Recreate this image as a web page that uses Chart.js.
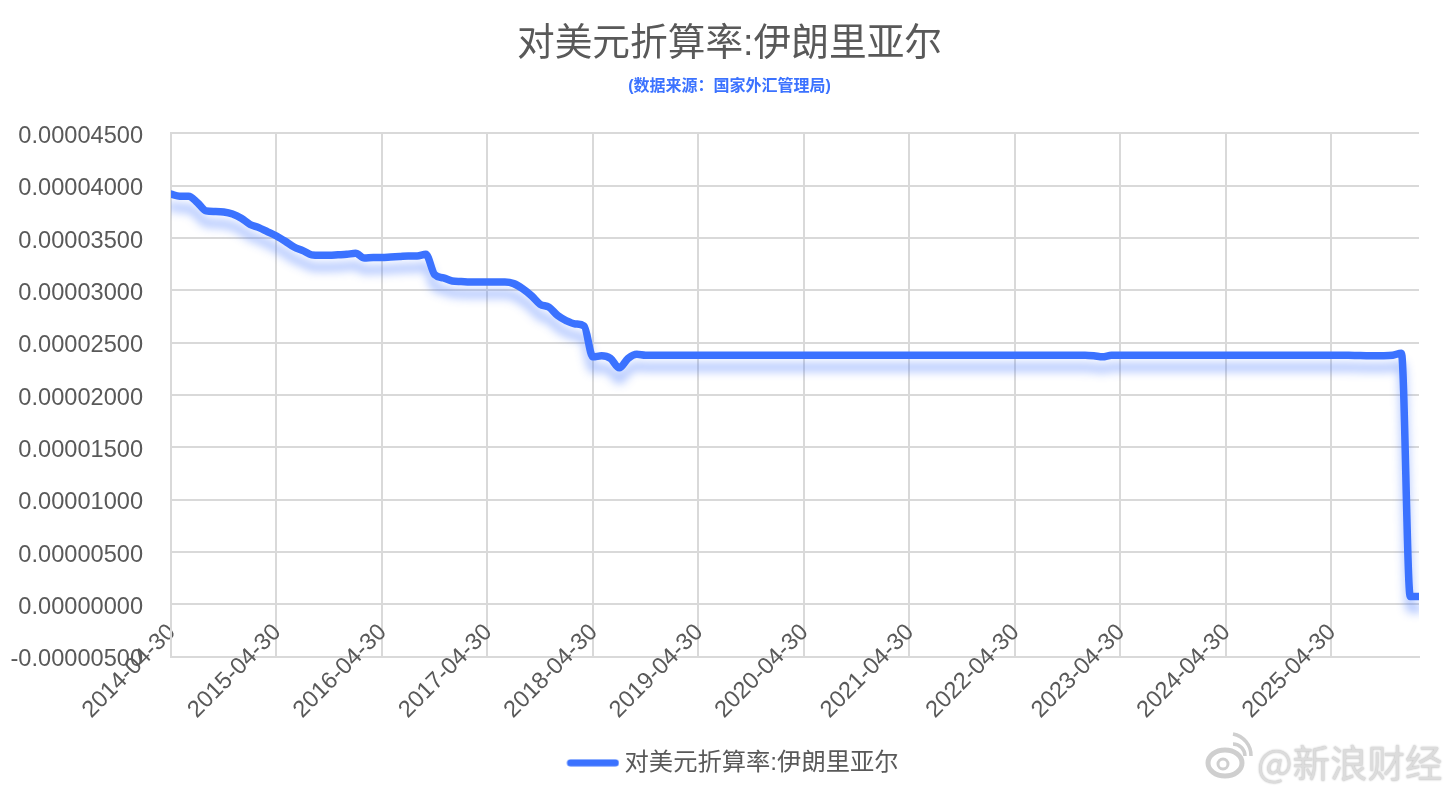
<!DOCTYPE html>
<html lang="zh-CN">
<head>
<meta charset="utf-8">
<title>对美元折算率:伊朗里亚尔</title>
<script src="https://cdn.jsdelivr.net/npm/chart.js@4/dist/chart.umd.min.js"></script>
<style>
    html, body { margin: 0; padding: 0; background: #fff; overflow: hidden; }
    #wrap { position: relative; width: 1454px; height: 790px; }
    #watermark { position: absolute; left: 1257px; top: 736px; font: 37.5px "Noto Sans CJK SC", sans-serif; line-height: 50px; color: #dcdcdc; text-shadow: 0 0 2px #b0b0b0; white-space: nowrap; }
    #weibo { position: absolute; left: 1205px; top: 730px; }
</style>
</head>
<body>
<div id="wrap">
    <canvas id="rateChart" width="1454" height="790"></canvas>
    <svg id="weibo" width="48" height="50" viewBox="0 0 48 50" fill="none" stroke="#cfcfcf">
        <ellipse cx="20" cy="33" rx="17" ry="13" stroke-width="5"/>
        <circle cx="18" cy="34" r="5" stroke-width="3"/>
        <path d="M28 14a12 12 0 0 1 12 12M28 4a22 22 0 0 1 18 22" stroke-width="3.5"/>
    </svg>
    <div id="watermark">@新浪财经</div>
</div>
<script>
// --- Dados ---
const titulo = '对美元折算率:伊朗里亚尔';
const subtitulo = '(数据来源\uFF1A国家外汇管理局)';

const datas = [
    '2014-04-30', '2014-05-31', '2014-06-30', '2014-07-31', '2014-08-31', '2014-09-30', '2014-10-31', '2014-11-30', '2014-12-31', '2015-01-31', '2015-02-28', '2015-03-31',
    '2015-04-30', '2015-05-31', '2015-06-30', '2015-07-31', '2015-08-31', '2015-09-30', '2015-10-31', '2015-11-30', '2015-12-31', '2016-01-31', '2016-02-29', '2016-03-31',
    '2016-04-30', '2016-05-31', '2016-06-30', '2016-07-31', '2016-08-31', '2016-09-30', '2016-10-31', '2016-11-30', '2016-12-31', '2017-01-31', '2017-02-28', '2017-03-31',
    '2017-04-30', '2017-05-31', '2017-06-30', '2017-07-31', '2017-08-31', '2017-09-30', '2017-10-31', '2017-11-30', '2017-12-31', '2018-01-31', '2018-02-28', '2018-03-31',
    '2018-04-30', '2018-05-31', '2018-06-30', '2018-07-31', '2018-08-31', '2018-09-30', '2018-10-31', '2018-11-30', '2018-12-31', '2019-01-31', '2019-02-28', '2019-03-31',
    '2019-04-30', '2019-05-31', '2019-06-30', '2019-07-31', '2019-08-31', '2019-09-30', '2019-10-31', '2019-11-30', '2019-12-31', '2020-01-31', '2020-02-29', '2020-03-31',
    '2020-04-30', '2020-05-31', '2020-06-30', '2020-07-31', '2020-08-31', '2020-09-30', '2020-10-31', '2020-11-30', '2020-12-31', '2021-01-31', '2021-02-28', '2021-03-31',
    '2021-04-30', '2021-05-31', '2021-06-30', '2021-07-31', '2021-08-31', '2021-09-30', '2021-10-31', '2021-11-30', '2021-12-31', '2022-01-31', '2022-02-28', '2022-03-31',
    '2022-04-30', '2022-05-31', '2022-06-30', '2022-07-31', '2022-08-31', '2022-09-30', '2022-10-31', '2022-11-30', '2022-12-31', '2023-01-31', '2023-02-28', '2023-03-31',
    '2023-04-30', '2023-05-31', '2023-06-30', '2023-07-31', '2023-08-31', '2023-09-30', '2023-10-31', '2023-11-30', '2023-12-31', '2024-01-31', '2024-02-29', '2024-03-31',
    '2024-04-30', '2024-05-31', '2024-06-30', '2024-07-31', '2024-08-31', '2024-09-30', '2024-10-31', '2024-11-30', '2024-12-31', '2025-01-31', '2025-02-28', '2025-03-31',
    '2025-04-30', '2025-05-31', '2025-06-30', '2025-07-31', '2025-08-31', '2025-09-30', '2025-10-31', '2025-11-30', '2025-12-31', '2026-01-31', '2026-02-28'
];

const valores = [
    0.00003920, 0.00003900, 0.00003900, 0.00003840, 0.00003760, 0.00003755, 0.00003750, 0.00003730, 0.00003690, 0.00003630, 0.00003600, 0.00003560,
    0.00003520, 0.00003470, 0.00003415, 0.00003380, 0.00003340, 0.00003335, 0.00003335, 0.00003340, 0.00003345, 0.00003355, 0.00003310, 0.00003315,
    0.00003315, 0.00003320, 0.00003325, 0.00003330, 0.00003330, 0.00003345, 0.00003150, 0.00003120, 0.00003090, 0.00003085, 0.00003080, 0.00003080,
    0.00003080, 0.00003080, 0.00003080, 0.00003065, 0.00003017, 0.00002950, 0.00002867, 0.00002840, 0.00002760, 0.00002710, 0.00002680, 0.00002660,
    0.00002365, 0.00002375, 0.00002350, 0.00002260, 0.00002350, 0.00002390, 0.00002380, 0.00002380, 0.00002380, 0.00002380, 0.00002380, 0.00002380,
    0.00002380, 0.00002380, 0.00002380, 0.00002380, 0.00002380, 0.00002380, 0.00002380, 0.00002380, 0.00002380, 0.00002380, 0.00002380, 0.00002380,
    0.00002380, 0.00002380, 0.00002380, 0.00002380, 0.00002380, 0.00002380, 0.00002380, 0.00002380, 0.00002380, 0.00002380, 0.00002380, 0.00002380,
    0.00002380, 0.00002380, 0.00002380, 0.00002380, 0.00002380, 0.00002380, 0.00002380, 0.00002380, 0.00002380, 0.00002380, 0.00002380, 0.00002380,
    0.00002380, 0.00002380, 0.00002380, 0.00002380, 0.00002380, 0.00002380, 0.00002380, 0.00002380, 0.00002380, 0.00002375, 0.00002365, 0.00002380,
    0.00002380, 0.00002380, 0.00002380, 0.00002380, 0.00002380, 0.00002380, 0.00002380, 0.00002380, 0.00002380, 0.00002380, 0.00002380, 0.00002380,
    0.00002380, 0.00002380, 0.00002380, 0.00002380, 0.00002380, 0.00002380, 0.00002380, 0.00002380, 0.00002380, 0.00002380, 0.00002380, 0.00002380,
    0.00002380, 0.00002380, 0.00002380, 0.00002378, 0.00002376, 0.00002376, 0.00002376, 0.00002380, 0.00002400, 0.00000075, 0.00000075
];

const corLinha = '#3b72ff';
const corTexto = '#595959';
const corGrade = '#d9d9d9';
const fonteTexto = '"Liberation Sans", "Noto Sans CJK SC", sans-serif';

// Traço da legenda: o canvas é mais largo para o traço ficar junto do texto
const chaveLegenda = document.createElement('canvas');
chaveLegenda.width = 66;
chaveLegenda.height = 8;
const ctxChave = chaveLegenda.getContext('2d');
ctxChave.strokeStyle = corLinha;
ctxChave.lineWidth = 7;
ctxChave.lineCap = 'round';
ctxChave.beginPath();
ctxChave.moveTo(17, 4);
ctxChave.lineTo(62, 4);
ctxChave.stroke();

// Sombra azul abaixo da linha
const sombraLinha = {
    id: 'sombraLinha',
    beforeDatasetDraw(chart) {
        const ctx = chart.ctx;
        ctx.save();
        ctx.shadowColor = 'rgba(59, 114, 255, 0.45)';
        ctx.shadowBlur = 10;
        ctx.shadowOffsetY = 12;
    },
    afterDatasetDraw(chart) {
        chart.ctx.restore();
    }
};

// Título e legenda ficam centrados na largura toda, não na área do gráfico
const centrarCaixas = {
    id: 'centrarCaixas',
    afterLayout(chart) {
        chart.boxes.forEach(box => {
            if (box.axis) return;
            box.left += 20;
            box.right += 20;
        });
    }
};

new Chart(document.getElementById('rateChart'), {
    type: 'line',
    data: {
        labels: datas,
        datasets: [{
            label: titulo,
            data: valores,
            borderColor: corLinha,
            backgroundColor: corLinha,
            borderWidth: 7.5,
            borderCapStyle: 'round',
            borderJoinStyle: 'round',
            pointRadius: 0,
            fill: false,
            cubicInterpolationMode: 'monotone',
            clip: 0
        }]
    },
    plugins: [sombraLinha, centrarCaixas],
    options: {
        responsive: false,
        animation: false,
        devicePixelRatio: 1,
        layout: { padding: { left: 0, right: 35, top: 22, bottom: 5 } },
        plugins: {
            title: {
                display: true,
                text: titulo,
                color: corTexto,
                font: { family: fonteTexto, size: 37.7, weight: 'normal' },
                padding: { top: 0, bottom: 10 }
            },
            subtitle: {
                display: true,
                text: subtitulo,
                color: corLinha,
                font: { family: fonteTexto, size: 16, weight: 'bold' },
                padding: { top: 0, bottom: 37 }
            },
            legend: {
                position: 'bottom',
                labels: {
                    color: corTexto,
                    font: { family: fonteTexto, size: 24.3 },
                    usePointStyle: true,
                    pointStyle: chaveLegenda,
                    pointStyleWidth: 52,
                    padding: 8
                }
            },
            tooltip: { enabled: false }
        },
        scales: {
            x: {
                afterFit(scale) {
                    scale.height = 86;
                    scale.paddingLeft = 0;
                    scale.paddingRight = 0;
                },
                grid: {
                    color: ctx => (ctx.index % 12 === 0 ? corGrade : 'transparent'),
                    lineWidth: 2,
                    drawTicks: false
                },
                border: { color: corGrade, width: 2 },
                ticks: {
                    autoSkip: false,
                    minRotation: 45,
                    maxRotation: 45,
                    mirror: true,
                    padding: 18,
                    labelOffset: 21,
                    color: corTexto,
                    font: { family: fonteTexto, size: 23.6 },
                    callback(value, index) { return index % 12 === 0 ? this.getLabelForValue(value) : ''; }
                }
            },
            y: {
                min: -0.000005,
                max: 0.000045,
                afterFit(scale) { scale.width = 171; },
                grid: { color: corGrade, lineWidth: 2, drawTicks: false },
                border: { color: corGrade, width: 2 },
                ticks: {
                    stepSize: 0.000005,
                    padding: 28,
                    labelOffset: 3,
                    color: corTexto,
                    font: { family: fonteTexto, size: 23.6 },
                    callback(value) { return value.toFixed(8); }
                }
            }
        }
    }
});
</script>
</body>
</html>
